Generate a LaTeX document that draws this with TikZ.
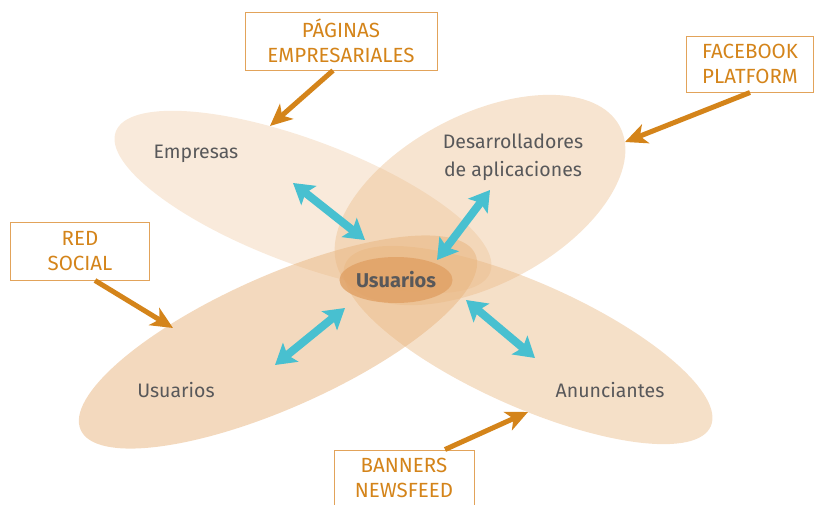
\documentclass[tikz,border=0pt]{standalone}
\usepackage{fontspec}
\setmainfont{Fira Sans}
\usetikzlibrary{arrows.meta,shapes.geometric}
\definecolor{peach}{RGB}{232,180,125}
\definecolor{core}{RGB}{224,160,100}
\definecolor{tagc}{RGB}{212,132,26}
\definecolor{tagline}{RGB}{226,163,90}
\definecolor{linkc}{RGB}{72,192,208}
\definecolor{labc}{RGB}{88,88,90}
\tikzset{
  tag/.style={draw=tagline, line width=1pt, fill=white, text=tagc, align=center,
    font=\fontsize{20.5}{25}\selectfont, inner sep=0pt},
  pointer/.style={draw=tagc, line width=5pt, -{Stealth[length=22pt,width=20pt,inset=6pt]}},
  link/.style={draw=linkc, line width=8pt,
    {Stealth[length=20pt,width=24pt,inset=4pt]}-{Stealth[length=20pt,width=24pt,inset=4pt]}},
  lab/.style={text=labc, font=\fontsize{19.5}{28}\selectfont, align=center},
}
\begin{document}
\begin{tikzpicture}[x=1pt,y=-1pt]
\useasboundingbox (0,0) rectangle (814,504);

% las cuatro elipses de los grupos
\fill[peach, opacity=0.28, rotate around={-20.6:(303,202)}] (303,202) ellipse [x radius=200pt, y radius=62pt];
\fill[peach, opacity=0.36, rotate around={27.7:(480,200)}] (480,200) ellipse [x radius=158pt, y radius=85pt];
\fill[peach, opacity=0.5, rotate around={24:(278,342)}] (278,342) ellipse [x radius=216pt, y radius=66pt];
\fill[peach, opacity=0.42, rotate around={-24:(528,345)}] (528,345) ellipse [x radius=200pt, y radius=62pt];

% nodo central
\node[ellipse, fill=core, fill opacity=0.8, text opacity=1, minimum width=110pt, minimum height=46pt,
  inner sep=0pt, text=labc, font=\fontsize{20}{25}\selectfont\bfseries] (cen) at (396,280) {Usuarios};

% etiquetas de los grupos
\node[lab] (emp) at (196,154) {Empresas};
\node[lab] (dev) at (513,157) {Desarrolladores\\de aplicaciones};
\node[lab] (usu) at (176,390) {Usuarios};
\node[lab] (anu) at (610,390) {Anunciantes};

% cuadros de los servicios
\node[tag, minimum width=192pt, minimum height=58pt] (pag) at (341,41) {PÁGINAS\\EMPRESARIALES};
\node[tag, minimum width=127pt, minimum height=56pt] (fb) at (750,64) {FACEBOOK\\PLATFORM};
\node[tag, minimum width=139pt, minimum height=58pt] (red) at (80,251) {RED\\SOCIAL};
\node[tag, minimum width=140pt, minimum height=60pt, text depth=4pt] (ban) at (404,480) {BANNERS\\NEWSFEED};

% flechas naranjas
\coordinate (pagtip) at (270,126);
\coordinate (fbtip) at (625,142);
\coordinate (redtip) at (173,328);
\coordinate (bantip) at (528,412);
\draw[pointer] ([xshift=-8pt]pag.south) -- (pagtip);
\draw[pointer] (fb.south) -- (fbtip);
\draw[pointer] ([xshift=15pt]red.south) -- (redtip);
\draw[pointer] ([xshift=41pt]ban.north) -- (bantip);

% flechas dobles hacia el centro
\coordinate (empa) at (293,183); \coordinate (empb) at (365,240);
\coordinate (deva) at (490,190); \coordinate (devb) at (437,260);
\coordinate (usua) at (345,308); \coordinate (usub) at (275,365);
\coordinate (anua) at (466,300); \coordinate (anub) at (535,358);
\draw[link] (empa) -- (empb);
\draw[link] (deva) -- (devb);
\draw[link] (usua) -- (usub);
\draw[link] (anua) -- (anub);
\end{tikzpicture}
\end{document}
